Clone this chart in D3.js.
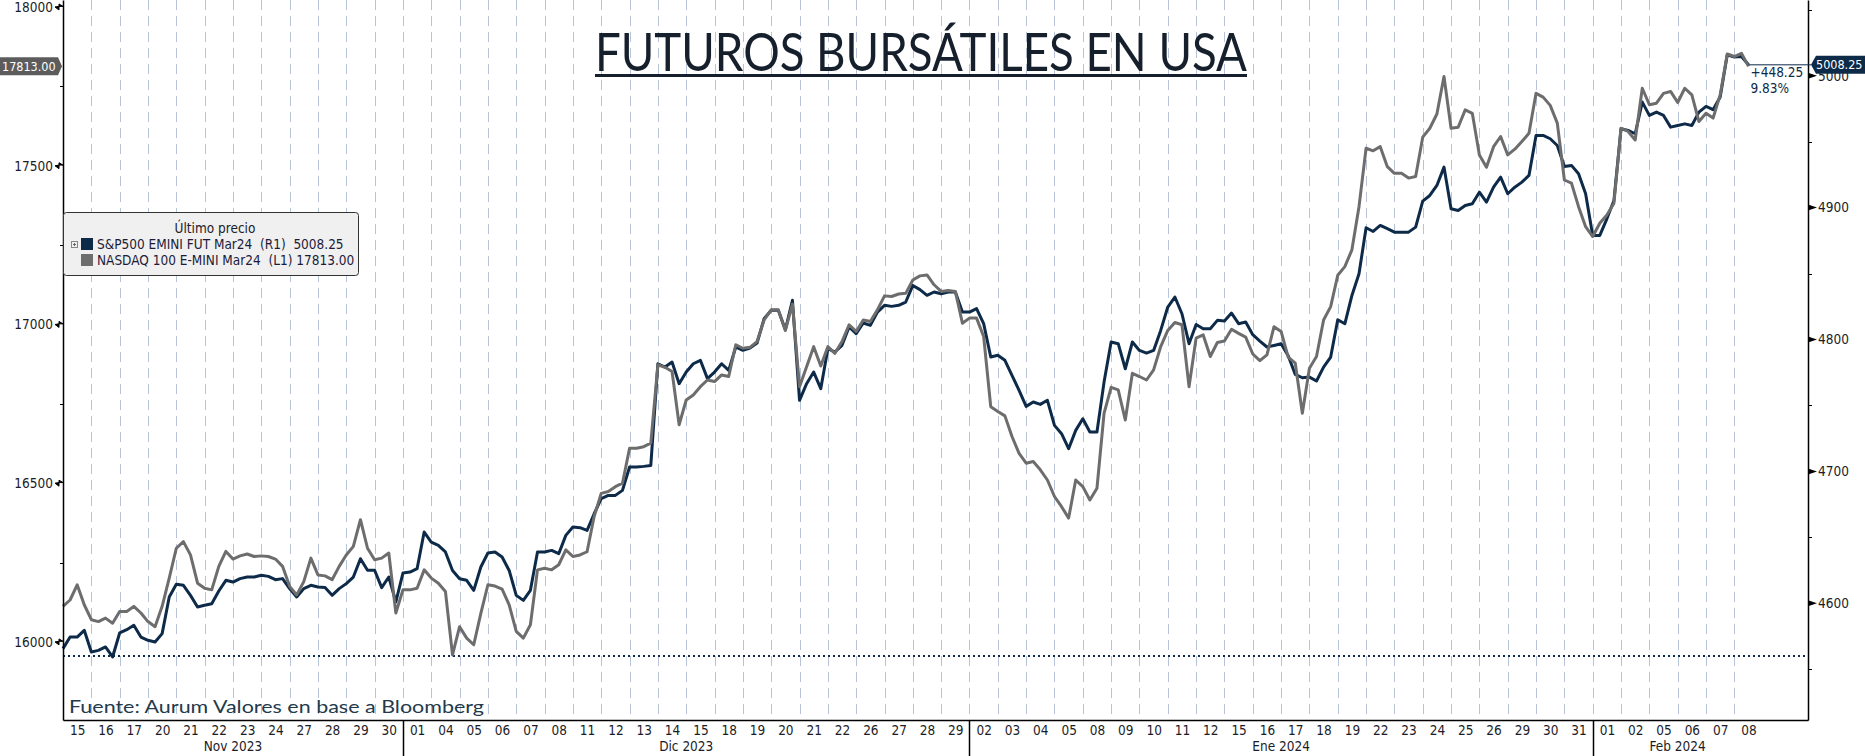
<!DOCTYPE html>
<html>
<head>
<meta charset="utf-8">
<script src="https://cdn.jsdelivr.net/npm/d3@7"></script>
<style>
  body { margin: 0; background: #fff; }
  svg { display: block; }
  .tk { font-family: "DejaVu Sans", sans-serif; font-stretch: condensed; font-size: 13.5px; fill: #1c1c28; }
  .rounded { font-family: Lato, "Open Sans", sans-serif; }
</style>
</head>
<body>
<script>
// Futuros bursátiles USA - S&P500 (eje der.) vs NASDAQ 100 (eje izq.)
// 4 lecturas por sesión

var PER_DAY = 4;

var months = ["Nov 2023", "Dic 2023", "Ene 2024", "Feb 2024"];
var daysNov = ["15","16","17","20","21","22","23","24","27","28","29","30"];
var daysDic = ["01","04","05","06","07","08","11","12","13","14","15","18","19","20","21","22","26","27","28","29"];
var daysEne = ["02","03","04","05","08","09","10","11","12","15","16","17","18","19","22","23","24","25","26","29","30","31"];
var daysFeb = ["01","02","05","06","07","08"];

var leftTicks = [16000, 16500, 17000, 17500, 18000];
var leftMinor = [16250, 16750, 17250, 17750];
var rightTicks = [4600, 4700, 4800, 4900, 5000];
var rightMinor = [4550, 4650, 4750, 4850, 4950, 5050];

var sp500Base = 4560.00;
var sp500Last = 5008.25;
var nasdaqLast = 17813.00;

var sp500 = [
  4565.6, 4574.4, 4574.4, 4579.5,  4563.1, 4564.3, 4566.9, 4559.3,  4577.5, 4580.0, 4583.3, 4574.4,
  4571.9, 4570.7, 4577.0, 4604.8,  4614.4, 4613.6, 4606.0, 4597.2,  4598.5, 4599.7, 4609.3, 4617.4,
  4616.1, 4618.7, 4619.9, 4619.9,  4621.2, 4620.4, 4617.9, 4618.7,  4611.1, 4604.8, 4611.1, 4613.6,
  4612.4, 4611.9, 4606.0, 4611.1,  4614.9, 4619.9, 4633.8, 4625.0,  4625.0, 4611.9, 4619.9, 4601.0,
  4622.9, 4623.7, 4626.2, 4654.0,  4646.4, 4643.9, 4638.9, 4624.9,  4618.6, 4617.4, 4609.8, 4627.5,
  4638.1, 4638.9, 4635.1, 4624.9,  4606.0, 4602.2, 4609.8, 4638.9,  4638.9, 4640.1, 4637.6, 4651.5,
  4657.8, 4657.3, 4655.3, 4667.9,  4679.3, 4681.8, 4681.8, 4685.6,  4703.3, 4703.3, 4703.8, 4704.5,
  4781.6, 4779.1, 4782.9, 4766.5,  4775.3, 4781.6, 4784.2, 4770.3,  4775.3, 4781.6, 4776.6, 4794.3,
  4791.8, 4793.5, 4797.3, 4815.8,  4822.1, 4822.1, 4807.4, 4829.7,  4753.9, 4766.5, 4775.3, 4762.7,
  4793.0, 4790.5, 4795.6, 4809.5,  4804.4, 4812.5, 4810.7, 4820.8,  4825.9, 4825.1, 4825.9, 4828.4,
  4841.0, 4837.8, 4833.5, 4836.0,  4834.7, 4836.0, 4836.0, 4820.8,  4820.8, 4823.4, 4812.0, 4786.7,
  4788.0, 4784.2, 4772.8, 4761.4,  4749.3, 4752.6, 4750.8, 4753.9,  4734.9, 4728.6, 4717.2, 4731.1,
  4739.9, 4729.8, 4729.8, 4767.7,  4798.1, 4796.8, 4777.8, 4798.1,  4791.7, 4789.7, 4791.7, 4806.9,
  4824.6, 4832.2, 4819.5, 4796.8,  4811.4, 4808.2, 4808.2, 4814.5,  4814.0, 4820.0, 4812.0, 4813.2,
  4803.6, 4798.8, 4794.3, 4795.5,  4796.8, 4787.7, 4773.5, 4771.0,  4771.5, 4768.5, 4779.1, 4786.7,
  4815.0, 4811.9, 4833.4, 4849.9,  4884.7, 4881.9, 4886.5, 4884.0,  4881.4, 4881.4, 4881.4, 4885.2,
  4904.9, 4909.2, 4916.8, 4930.7,  4899.1, 4897.8, 4901.6, 4902.9,  4911.7, 4904.2, 4915.5, 4923.1,
  4910.5, 4915.5, 4919.3, 4924.4,  4954.7, 4954.7, 4952.2, 4947.1,  4931.2, 4932.0, 4925.6, 4910.5,
  4878.9, 4878.9, 4891.5, 4905.4,  4959.8, 4958.5, 4956.0, 4980.0,  4969.9, 4972.4, 4969.9, 4961.0,
  4962.3, 4963.5, 4962.3, 4972.4,  4976.7, 4974.2, 4983.8, 5015.9,  5014.1, 5014.6, 5008.25
];

var nasdaq = [
  16112, 16132, 16180, 16117,  16070, 16064, 16075, 16059,  16096, 16096, 16112, 16091,
  16064, 16048, 16112, 16201,  16295, 16316, 16274, 16185,  16169, 16164, 16238, 16285,
  16261, 16271, 16277, 16269,  16271, 16269, 16261, 16238,  16175, 16148, 16190, 16264,
  16211, 16208, 16196, 16238,  16274, 16301, 16385, 16295,  16259, 16264, 16280, 16091,
  16164, 16164, 16169, 16227,  16201, 16185, 16159, 15959,  16048, 16012, 15991, 16090,
  16180, 16176, 16166, 16117,  16033, 16012, 16054, 16227,  16232, 16227, 16243, 16290,
  16269, 16274, 16284, 16395,  16468, 16474, 16489, 16500,  16610, 16610, 16615, 16626,
  16873, 16865, 16852, 16684,  16762, 16778, 16804, 16825,  16820, 16841, 16836, 16936,
  16925, 16928, 16946, 17014,  17046, 17046, 16981, 17064,  16804, 16867, 16930, 16869,
  16930, 16909, 16946, 16999,  16978, 17014, 17009, 17046,  17090, 17088, 17096, 17098,
  17140, 17153, 17156, 17125,  17104, 17107, 17104, 17004,  17020, 17020, 16962, 16741,
  16726, 16712, 16647, 16594,  16563, 16568, 16542, 16510,  16458, 16426, 16390, 16510,
  16489, 16447, 16484, 16720,  16802, 16794, 16699, 16846,  16836, 16825, 16857, 16930,
  16981, 17006, 16999, 16804,  16957, 16967, 16899, 16943,  16948, 16985, 16972, 16960,
  16907, 16886, 16904, 16993,  16978, 16897, 16878, 16720,  16862, 16899, 17014, 17056,
  17155, 17182, 17235, 17371,  17555, 17547, 17560, 17497,  17476, 17476, 17461, 17466,
  17590, 17618, 17663, 17781,  17618, 17621, 17676, 17665,  17534, 17495, 17560, 17592,
  17534, 17552, 17576, 17602,  17728, 17716, 17690, 17634,  17455, 17445, 17371, 17308,
  17277, 17319, 17345, 17382,  17618, 17608, 17581, 17744,  17692, 17697, 17728, 17734,
  17699, 17744, 17723, 17639,  17665, 17650, 17723, 17852,  17844, 17854, 17813
];

var legendTitle = "Último precio";
var legendRows = ["S&P500 EMINI FUT Mar24  (R1)  5008.25", "NASDAQ 100 E-MINI Mar24  (L1) 17813.00"];

var navy = "#0d2a49", grey = "#6d6d6d";

// Canvas
var W = 1865, H = 756;
var margin = {left: 63, right: 57, top: 0, bottom: 36},
    width = W - margin.left - margin.right,
    height = H - margin.top - margin.bottom;

var svg = d3.select("body").append("svg")
    .attr("width", W)
    .attr("height", H);

var g = svg.append("g")
    .attr("transform", "translate(" + margin.left + "," + margin.top + ")");

var monthDays = [daysNov, daysDic, daysEne, daysFeb];
var allDays = [].concat.apply([], monthDays);
var nDays = allDays.length;

// scales (x in sessions)
var x = d3.scaleLinear().domain([0, 61.6]).range([0, width]);
var yL = d3.scaleLinear().domain([15754, 18022]).range([height, 0]);
var yR = d3.scaleLinear().domain([4511.5, 5057.4]).range([height, 0]);

// dashed day separators
g.append("g").selectAll("line")
    .data(d3.range(1, nDays))
    .enter().append("line")
    .attr("x1", function(d) { return Math.round(x(d)) + 0.5; })
    .attr("x2", function(d) { return Math.round(x(d)) + 0.5; })
    .attr("y1", 0)
    .attr("y2", height)
    .attr("stroke", "#b7c4d8")
    .attr("stroke-width", 1)
    .attr("stroke-dasharray", "10,6");

// reference line (S&P start value)
g.append("line")
    .attr("x1", 0).attr("x2", width)
    .attr("y1", yR(sp500Base)).attr("y2", yR(sp500Base))
    .attr("stroke", navy)
    .attr("stroke-width", 2)
    .attr("stroke-dasharray", "2,3");

// series
var lineR = d3.line()
    .x(function(d, i) { return x(i / PER_DAY); })
    .y(function(d) { return yR(d); });
var lineL = d3.line()
    .x(function(d, i) { return x(i / PER_DAY); })
    .y(function(d) { return yL(d); });

g.append("path")
    .datum(sp500)
    .attr("fill", "none")
    .attr("stroke", navy)
    .attr("stroke-width", 3)
    .attr("stroke-linejoin", "round")
    .attr("d", lineR);

g.append("path")
    .datum(nasdaq)
    .attr("fill", "none")
    .attr("stroke", grey)
    .attr("stroke-width", 3)
    .attr("stroke-linejoin", "round")
    .attr("d", lineL);

// left axis
var axL = g.append("g")
    .call(d3.axisLeft(yL).tickValues(leftTicks).tickSize(0).tickSizeOuter(0).tickPadding(10).tickFormat(d3.format("d")));
axL.select(".domain").attr("stroke", "#000").attr("stroke-width", 1.5);
axL.selectAll("text").attr("class", "tk").attr("fill", null);

g.append("g").selectAll("path")
    .data(leftTicks)
    .enter().append("path")
    .attr("d", function(d) { var y = yL(d); return "M0," + (y - 0.6) + "H-4L-8," + y + "L-4," + (y + 3) + "V" + (y - 3) + "Z"; })
    .attr("fill", "#000").attr("stroke", "#000").attr("stroke-width", 1);

g.append("g").selectAll("line")
    .data(leftMinor)
    .enter().append("line")
    .attr("x1", -3).attr("x2", 0)
    .attr("y1", function(d) { return Math.round(yL(d)) + 0.5; })
    .attr("y2", function(d) { return Math.round(yL(d)) + 0.5; })
    .attr("stroke", "#000");

// right axis
var axR = g.append("g")
    .attr("transform", "translate(" + width + ",0)")
    .call(d3.axisRight(yR).tickValues(rightTicks).tickSize(0).tickSizeOuter(0).tickPadding(10).tickFormat(d3.format("d")));
axR.select(".domain").attr("stroke", "#000").attr("stroke-width", 1.5);
axR.selectAll("text").attr("class", "tk").attr("fill", null);

g.append("g")
    .attr("transform", "translate(" + width + ",0)")
    .selectAll("path")
    .data(rightTicks)
    .enter().append("path")
    .attr("d", function(d) { var y = yR(d); return "M0," + (y - 3) + "L9," + y + "L0," + (y + 3) + "Z"; })
    .attr("fill", "#000");

g.append("g")
    .attr("transform", "translate(" + width + ",0)")
    .selectAll("line")
    .data(rightMinor)
    .enter().append("line")
    .attr("x1", 0).attr("x2", 4)
    .attr("y1", function(d) { return Math.round(yR(d)) + 0.5; })
    .attr("y2", function(d) { return Math.round(yR(d)) + 0.5; })
    .attr("stroke", "#000");

// bottom axis: day labels
var axB = g.append("g")
    .attr("transform", "translate(0," + height + ")")
    .call(d3.axisBottom(x)
        .tickValues(d3.range(nDays).map(function(i) { return i + 0.5; }))
        .tickFormat(function(d) { return allDays[Math.floor(d)]; })
        .tickSize(0).tickSizeOuter(0).tickPadding(5));
axB.select(".domain").attr("stroke", "#000").attr("stroke-width", 1.5);
axB.selectAll("text").attr("class", "tk").attr("fill", null);

// month separators + labels
var starts = [0];
monthDays.forEach(function(m, i) { starts.push(starts[i] + m.length); });

g.append("g").selectAll("line")
    .data(starts.slice(1, -1))
    .enter().append("line")
    .attr("x1", function(d) { return Math.round(x(d)) + 0.5; })
    .attr("x2", function(d) { return Math.round(x(d)) + 0.5; })
    .attr("y1", height).attr("y2", H)
    .attr("stroke", "#000").attr("stroke-width", 1.5);

g.append("g").selectAll("text")
    .data(months)
    .enter().append("text")
    .attr("class", "tk")
    .attr("text-anchor", "middle")
    .attr("x", function(d, i) { return x((starts[i] + starts[i + 1]) / 2); })
    .attr("y", height + 31)
    .text(function(d) { return d; });

// last value tags
var lastIdx = sp500.length - 1;
var yLastR = yR(sp500Last), yLastL = yL(nasdaqLast);

g.append("line")
    .attr("x1", x(lastIdx / PER_DAY)).attr("x2", width + 3)
    .attr("y1", yLastR).attr("y2", yLastR)
    .attr("stroke", navy).attr("stroke-width", 1);

g.append("text")
    .attr("class", "tk")
    .attr("x", x(lastIdx / PER_DAY) + 2)
    .attr("y", yLastR + 12)
    .style("fill", navy)
    .text("+" + d3.format(".2f")(sp500Last - sp500Base));
g.append("text")
    .attr("class", "tk")
    .attr("x", x(lastIdx / PER_DAY) + 2)
    .attr("y", yLastR + 28)
    .style("fill", navy)
    .text(d3.format(".2f")((sp500Last / sp500Base - 1) * 100) + "%");

svg.append("path")
    .attr("d", "M" + (margin.left + width + 3) + "," + yLastR + "L" + (margin.left + width + 8) + "," + (yLastR - 9) +
        "H" + W + "V" + (yLastR + 9) + "H" + (margin.left + width + 8) + "Z")
    .attr("fill", navy);
svg.append("text")
    .attr("class", "tk")
    .attr("x", margin.left + width + 8)
    .attr("y", yLastR + 4.5)
    .style("font-size", "12.5px")
    .style("fill", "#fff")
    .text(d3.format(".2f")(sp500Last));

svg.append("path")
    .attr("d", "M0," + (yLastL - 9) + "H" + (margin.left - 5) + "L" + (margin.left - 1) + "," + yLastL +
        "L" + (margin.left - 5) + "," + (yLastL + 9) + "H0Z")
    .attr("fill", "#5c5c5c");
svg.append("text")
    .attr("class", "tk")
    .attr("x", 2)
    .attr("y", yLastL + 4.5)
    .style("font-size", "12.5px")
    .style("fill", "#fff")
    .text(d3.format(".2f")(nasdaqLast));

// legend
var lg = svg.append("g").attr("transform", "translate(63,212)");
lg.append("rect")
    .attr("x", 0.5).attr("y", 0.5)
    .attr("width", 295).attr("height", 63)
    .attr("rx", 3)
    .attr("fill", "#f0f0f0")
    .attr("stroke", "#333").attr("stroke-width", 1);
lg.append("text")
    .attr("class", "tk")
    .attr("x", 152).attr("y", 21)
    .attr("text-anchor", "middle")
    .text(legendTitle);
lg.append("rect")
    .attr("x", 8.5).attr("y", 29.5).attr("width", 6).attr("height", 6)
    .attr("fill", "none").attr("stroke", "#888");
lg.append("path")
    .attr("d", "M10,32.5H13M11.5,31V34")
    .attr("stroke", "#666");
lg.selectAll(".sw")
    .data([navy, grey])
    .enter().append("rect")
    .attr("x", 18).attr("y", function(d, i) { return 26 + i * 16; })
    .attr("width", 12).attr("height", 12)
    .attr("fill", function(d) { return d; });
lg.selectAll(".row")
    .data(legendRows)
    .enter().append("text")
    .attr("class", "tk")
    .attr("x", 34).attr("y", function(d, i) { return 37 + i * 16; })
    .style("white-space", "pre")
    .style("fill", "#1c1c3a")
    .text(function(d) { return d; });

// title
svg.append("text")
    .attr("class", "rounded")
    .attr("x", 921).attr("y", 71)
    .attr("text-anchor", "middle")
    .attr("font-size", 52)
    .attr("textLength", 652)
    .attr("lengthAdjust", "spacingAndGlyphs")
    .attr("fill", "#161f2c")
    .text("FUTUROS BURSÁTILES EN USA");
svg.append("rect")
    .attr("x", 595).attr("y", 74)
    .attr("width", 652).attr("height", 3)
    .attr("fill", "#161f2c");

// source
svg.append("text")
    .attr("class", "rounded")
    .attr("x", 69).attr("y", 713)
    .attr("font-size", 18)
    .attr("textLength", 415)
    .attr("lengthAdjust", "spacingAndGlyphs")
    .attr("fill", "#233a4c")
    .text("Fuente: Aurum Valores en base a Bloomberg");
</script>
</body>
</html>
